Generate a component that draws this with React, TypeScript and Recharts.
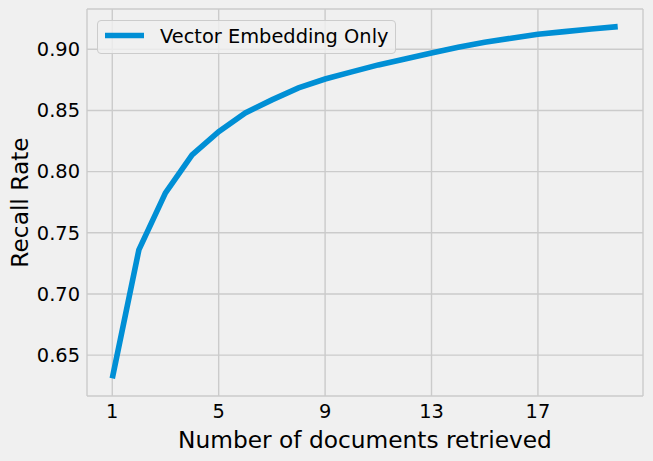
import React from "react";
import { LineChart, Line, XAxis, YAxis, CartesianGrid, Legend } from "recharts";

const docsRetrieved = [1, 2, 3, 4, 5, 6, 7, 8, 9, 10, 11, 12, 13, 14, 15, 16, 17, 18, 19, 20];
const recallRate = [
    0.631, 0.736, 0.7826, 0.8136, 0.8327, 0.848, 0.8586, 0.8684, 0.8757, 0.8815,
    0.8872, 0.8921, 0.897, 0.9016, 0.9057, 0.909, 0.9123, 0.9144, 0.9166, 0.9185,
];
const xTicks = [1, 5, 9, 13, 17];
const yTicks = [0.65, 0.7, 0.75, 0.8, 0.85, 0.9];
const seriesName = "Vector Embedding Only";

const data = docsRetrieved.map((n, i) => ({ n, recall: recallRate[i] }));

const FONT = "'DejaVu Sans', sans-serif";
const BLUE = "#008fd5";

function YLabel(props: any) {
    const vb = props.viewBox;
    const cx = 28;
    const cy = vb.y + vb.height / 2;
    return (
        <text x={cx} y={cy} transform={`rotate(-90, ${cx}, ${cy})`} textAnchor="middle"
            fontSize={23.3} fontFamily={FONT} fill="#000">
            Recall Rate
        </text>
    );
}

function LegendBox() {
    return (
        <div style={{
            position: "absolute", left: 97, top: 20, width: 297, height: 32,
            border: "1px solid #cccccc", borderRadius: 4, background: "rgba(240,240,240,0.8)",
        }}>
            <svg width={297} height={32} style={{ position: "absolute", left: 0, top: 0 }}>
                <line x1={7} x2={46} y1={14.5} y2={14.5} stroke={BLUE} strokeWidth={5.6} />
                <text x={62} y={21.5} fontSize={19.4} fontFamily={FONT} fill="#000">{seriesName}</text>
            </svg>
        </div>
    );
}

export default function App() {
    return (
        <div style={{ position: "absolute", left: 0, top: 0, width: 653, height: 461, background: "#f0f0f0" }}>
            <LineChart width={653} height={461} data={data}
                margin={{ top: 9, right: 10, bottom: 0, left: 0 }}>
                <CartesianGrid stroke="#cbcbcb" strokeWidth={1.4} />
                <XAxis dataKey="n" type="number" domain={[0.05, 20.95]} ticks={xTicks}
                    axisLine={false} tickLine={false} tickSize={0} tickMargin={8} height={65}
                    tick={{ fontSize: 19.4, fontFamily: FONT, fill: "#000" }}
                    label={{ value: "Number of documents retrieved", position: "insideBottom", offset: 13,
                        fontSize: 23.3, fontFamily: FONT, fill: "#000" }} />
                <YAxis type="number" domain={[0.6166, 0.9329]} ticks={yTicks} width={87}
                    axisLine={false} tickLine={false} tickSize={0} tickMargin={7}
                    tickFormatter={(v: number) => v.toFixed(2)}
                    tick={{ fontSize: 19.4, fontFamily: FONT, fill: "#000" }}
                    label={<YLabel />} />
                <Legend content={() => <LegendBox />} wrapperStyle={{ position: "absolute", left: 0, top: 0, width: 0, height: 0 }} />
                <Line type="linear" dataKey="recall" name={seriesName} stroke={BLUE} strokeWidth={5.6}
                    dot={false} isAnimationActive={false} />
            </LineChart>
        </div>
    );
}
